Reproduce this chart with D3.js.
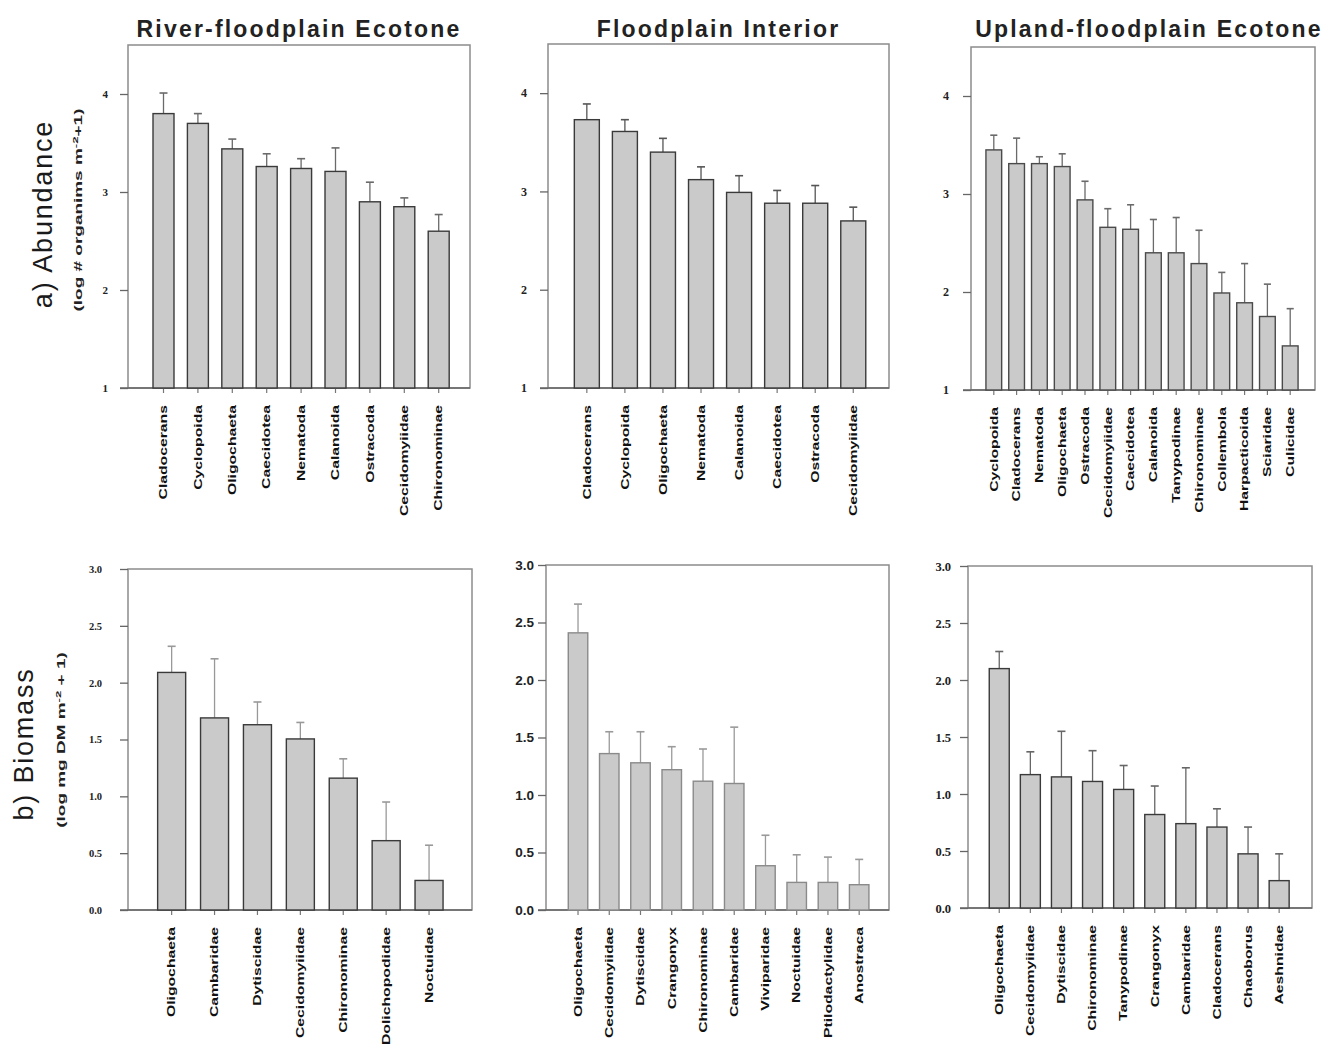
<!DOCTYPE html>
<html><head><meta charset="utf-8">
<script src="https://cdn.jsdelivr.net/npm/d3@7"></script>
<style>body{margin:0;background:#fff}svg{display:block}</style>
</head><body>
<svg id="c" width="1328" height="1045"></svg>
<script>
// ---------- DATA ----------
const titles = ["River-floodplain Ecotone", "Floodplain Interior", "Upland-floodplain Ecotone"];

const rfAbundCats = ["Cladocerans","Cyclopoida","Oligochaeta","Caecidotea","Nematoda","Calanoida","Ostracoda","Cecidomyiidae","Chironominae"];
const rfAbundMean = [3.80,3.70,3.44,3.26,3.24,3.21,2.90,2.85,2.60];
const rfAbundSE   = [0.21,0.10,0.10,0.13,0.10,0.24,0.20,0.09,0.17];

const fiAbundCats = ["Cladocerans","Cyclopoida","Oligochaeta","Nematoda","Calanoida","Caecidotea","Ostracoda","Cecidomyiidae"];
const fiAbundMean = [3.73,3.61,3.40,3.12,2.99,2.88,2.88,2.70];
const fiAbundSE   = [0.16,0.12,0.14,0.13,0.17,0.13,0.18,0.14];

const ufAbundCats = ["Cyclopoida","Cladocerans","Nematoda","Oligochaeta","Ostracoda","Cecidomyiidae","Caecidotea","Calanoida","Tanypodinae","Chironominae","Collembola","Harpacticoida","Sciaridae","Culicidae"];
const ufAbundMean = [3.45,3.31,3.31,3.28,2.94,2.66,2.64,2.40,2.40,2.29,1.99,1.89,1.75,1.45];
const ufAbundSE   = [0.15,0.26,0.07,0.13,0.19,0.19,0.25,0.34,0.36,0.34,0.21,0.40,0.33,0.38];

const rfBioCats = ["Oligochaeta","Cambaridae","Dytiscidae","Cecidomyiidae","Chironominae","Dolichopodidae","Noctuidae"];
const rfBioMean = [2.09,1.69,1.63,1.505,1.16,0.61,0.26];
const rfBioSE   = [0.23,0.52,0.20,0.145,0.17,0.34,0.31];

const fiBioCats = ["Oligochaeta","Cecidomyiidae","Dytiscidae","Crangonyx","Chironominae","Cambaridae","Viviparidae","Noctuidae","Ptilodactylidae","Anostraca"];
const fiBioMean = [2.41,1.36,1.28,1.22,1.12,1.10,0.385,0.24,0.24,0.22];
const fiBioSE   = [0.25,0.19,0.27,0.20,0.28,0.49,0.265,0.24,0.22,0.22];

const ufBioCats = ["Oligochaeta","Cecidomyiidae","Dytiscidae","Chironominae","Tanypodinae","Crangonyx","Cambaridae","Cladocerans","Chaoborus","Aeshnidae"];
const ufBioMean = [2.10,1.17,1.15,1.11,1.04,0.82,0.74,0.71,0.475,0.24];
const ufBioSE   = [0.15,0.20,0.40,0.27,0.21,0.25,0.49,0.16,0.235,0.235];

const abundTicks = [1,2,3,4];
const bioTicks = [0,0.5,1,1.5,2,2.5,3];

// ---------- LAYOUT ----------
const panels = [
  {cats:rfAbundCats, mean:rfAbundMean, se:rfAbundSE, dom:[1,4.5], ticks:abundTicks, fmt:d3.format("d"),
   box:[128,470,45,388], band:[146.3,455.9], pad:0.39, tp:12, tfont:"bold 11px 'Liberation Serif'", barStroke:"#3a3a3a", errC:"#6a6a6a", title:0},
  {cats:fiAbundCats, mean:fiAbundMean, se:fiAbundSE, dom:[1,4.5], ticks:abundTicks, fmt:d3.format("d"),
   box:[548,889,44,388], band:[567.8,872.3], pad:0.343, tp:13, tfont:"bold 12px 'Liberation Serif'", barStroke:"#3a3a3a", errC:"#555", title:1},
  {cats:ufAbundCats, mean:ufAbundMean, se:ufAbundSE, dom:[1,4.5], ticks:abundTicks, fmt:d3.format("d"),
   box:[971,1315,47,390], band:[982.4,1301.6], pad:0.31, tp:14, tfont:"bold 12px 'Liberation Serif'", barStroke:"#4a4a4a", errC:"#6a6a6a", title:2},
  {cats:rfBioCats, mean:rfBioMean, se:rfBioSE, dom:[0,3], ticks:bioTicks, fmt:d3.format(".1f"),
   box:[128,472,569,910], band:[150.2,450.5], pad:0.347, tp:18, tfont:"bold 10.5px 'Liberation Serif'", barStroke:"#3a3a3a", errC:"#999", title:null},
  {cats:fiBioCats, mean:fiBioMean, se:fiBioSE, dom:[0,3], ticks:bioTicks, fmt:d3.format(".1f"),
   box:[546,889,565,910], band:[562.4,874.8], pad:0.376, tp:4, tfont:"bold 13.5px 'Liberation Sans'", barStroke:"#8a8a8a", errC:"#9a9a9a", title:null},
  {cats:ufBioCats, mean:ufBioMean, se:ufBioSE, dom:[0,3], ticks:bioTicks, fmt:d3.format(".1f"),
   box:[968,1312,566,908], band:[983.7,1294.7], pad:0.357, tp:9, tfont:"bold 12.5px 'Liberation Serif'", barStroke:"#3a3a3a", errC:"#666", title:null}
];

const svg = d3.select("#c");

panels.forEach(p => {
  const [L,R,T,B] = p.box;
  const y = d3.scaleLinear().domain(p.dom).range([B,T]);
  const x = d3.scaleBand().domain(p.cats).range(p.band).paddingInner(p.pad).paddingOuter(p.pad/2);
  const g = svg.append("g");

  // frame
  g.append("rect").attr("x",L).attr("y",T).attr("width",R-L).attr("height",B-T)
    .attr("fill","none").attr("stroke","#8c8c8c").attr("stroke-width",1.5);

  // y axis
  const ya = g.append("g").attr("transform",`translate(${L},0)`)
    .call(d3.axisLeft(y).tickValues(p.ticks).tickFormat(p.fmt).tickSize(8).tickPadding(p.tp));
  ya.select(".domain").remove();
  ya.selectAll(".tick line").attr("stroke","#666").attr("stroke-width",1.3);
  ya.selectAll(".tick text").style("font",p.tfont).attr("fill","#222");

  // bottom axis line
  g.append("line").attr("x1",L-8).attr("x2",R).attr("y1",B).attr("y2",B)
    .attr("stroke","#666").attr("stroke-width",1.6);

  // x axis ticks & labels
  const xa = g.append("g").attr("transform",`translate(0,${B})`)
    .call(d3.axisBottom(x).tickSize(5).tickFormat(""));
  xa.select(".domain").remove();
  xa.selectAll(".tick line").attr("stroke","#777").attr("stroke-width",1.2);

  g.selectAll("text.xl").data(p.cats).join("text").attr("class","xl")
    .attr("transform", d => `translate(${x(d)+x.bandwidth()/2},${B+17}) rotate(-90) scale(1.5,1)`)
    .attr("text-anchor","end").attr("dy","0.36em")
    .style("font","bold 10.5px 'Liberation Sans'").attr("fill","#111")
    .text(d => d);

  const data = p.cats.map((c,i)=>({c, m:p.mean[i], e:p.se[i]}));

  // error bars
  const cap = Math.min(8, x.bandwidth()*0.45);
  g.selectAll("line.eb").data(data).join("line").attr("class","eb")
    .attr("x1",d=>x(d.c)+x.bandwidth()/2).attr("x2",d=>x(d.c)+x.bandwidth()/2)
    .attr("y1",d=>y(d.m)).attr("y2",d=>y(d.m+d.e))
    .attr("stroke",p.errC).attr("stroke-width",1.3);
  g.selectAll("line.ec").data(data).join("line").attr("class","ec")
    .attr("x1",d=>x(d.c)+x.bandwidth()/2-cap/2).attr("x2",d=>x(d.c)+x.bandwidth()/2+cap/2)
    .attr("y1",d=>y(d.m+d.e)).attr("y2",d=>y(d.m+d.e))
    .attr("stroke",p.errC).attr("stroke-width",1.6);

  // bars
  g.selectAll("rect.bar").data(data).join("rect").attr("class","bar")
    .attr("x",d=>x(d.c)).attr("width",x.bandwidth())
    .attr("y",d=>y(d.m)).attr("height",d=>B-y(d.m))
    .attr("fill","#cacaca").attr("stroke",p.barStroke).attr("stroke-width",1.4);

  if (p.title !== null) {
    svg.append("text").attr("x",(L+R)/2 + (p.title===2?6:0)).attr("y",37)
      .attr("text-anchor","middle")
      .style("font","bold 23px 'Liberation Sans'").style("letter-spacing","2.2px")
      .attr("fill","#222").text(titles[p.title]);
  }
});

// Row labels
function rowLabel(xb, yc, main, subParts, subX) {
  svg.append("text").attr("transform",`translate(${xb},${yc}) rotate(-90)`)
    .attr("text-anchor","middle")
    .style("font","27px 'Liberation Sans'").style("letter-spacing","1.8px")
    .attr("fill","#1a1a1a").text(main);
  const t = svg.append("text").attr("transform",`translate(${subX},${yc-4}) rotate(-90) scale(1.65,1)`)
    .attr("text-anchor","middle")
    .style("font","bold 11.5px 'Liberation Sans'").attr("fill","#222");
  subParts.forEach(s => {
    const ts = t.append("tspan").text(s.t);
    if (s.sup) ts.attr("baseline-shift","super").style("font-size","8px");
  });
}
rowLabel(52, 214, "a) Abundance",
  [{t:"(log # organims m"},{t:"-2",sup:true},{t:"+1)"}], 82);
rowLabel(33, 744, "b) Biomass",
  [{t:"(log mg DM m"},{t:"-2",sup:true},{t:" + 1)"}], 65);
</script>
</body></html>
